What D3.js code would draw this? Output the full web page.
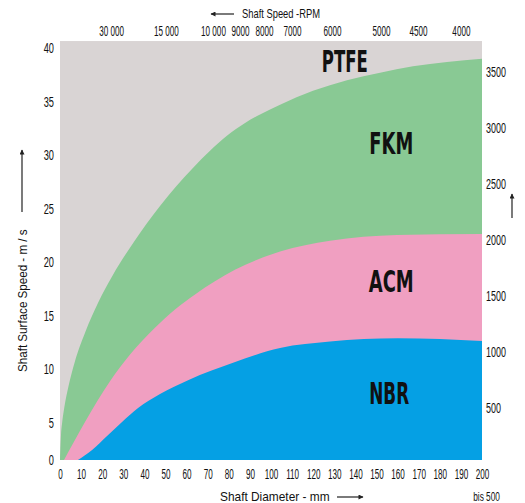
<!DOCTYPE html>
<html>
<head>
<meta charset="utf-8">
<script src="https://cdn.jsdelivr.net/npm/d3@7"></script>
<style>
  body { margin: 0; background: #fff; }
  svg { display: block; }
</style>
</head>
<body>
<div id="chart"></div>
<script>
// upper limit of each seal material: shaft diameter (mm) -> surface speed (m/s)
const fkmDiameter = [0, 0.5, 1, 2, 4, 7, 12, 18, 25, 35, 47.4, 63, 71.1, 79.1, 87.7, 94.8, 104.3, 119.9, 136, 151.7, 167.3, 183.4, 200];
const fkmSpeed    = [0, 3.5, 5.0, 6.4, 8.4, 10.7, 13.5, 16.2, 18.8, 21.9, 25.25, 28.8, 30.4, 31.8, 33.0, 33.8, 34.7, 36.0, 37.0, 37.7, 38.3, 38.7, 39.0];

const acmDiameter = [1.9, 11.85, 23.7, 33.2, 45, 54.5, 64, 82.9, 104.3, 128, 159.7, 200];
const acmSpeed    = [0, 5.1, 8.9, 11.4, 13.9, 15.6, 17.0, 19.3, 21.0, 22.0, 22.55, 22.65];

const nbrDiameter = [8.5, 15.2, 22.3, 29.4, 37, 47.4, 60.7, 83, 104.3, 128, 160, 200];
const nbrSpeed    = [0, 1.35, 3.25, 5.1, 6.4, 7.7, 9.0, 10.7, 12.0, 12.6, 12.9, 12.65];

const materials = ["PTFE", "FKM", "ACM", "NBR"];
const colors = ["#d9d4d4", "#89c994", "#f09fc1", "#05a0e4"];

const diameterTicks = d3.range(0, 201, 10);
const speedTicks = [0, 5, 10, 15, 20, 25, 30, 35, 40];
const rpmRightTicks = [500, 1000, 1500, 2000, 2500, 3000, 3500];
const rpmTopTicks = [30000, 15000, 10000, 9000, 8000, 7000, 6000, 5000, 4500, 4000];
// where each rpm label sits along the diameter axis (mm)
const rpmTopAt = [24.2, 50.2, 72.5, 85.3, 96.7, 110, 128.9, 152.1, 169.7, 190];

const width = 525, height = 503;
const font = "'Liberation Sans', Arial, sans-serif";

const x = d3.scaleLinear().domain([0, 200]).range([60, 482]);
// the scan's axis is not even below 5 m/s
const y = d3.scaleLinear().domain([0, 5, 40]).range([460, 423, 48]);
const yRpm = d3.scaleLinear().domain([500, 3500]).range([408, 72]);
const yTop = 40.65;

const fmtRpm = n => n >= 10000 ? d3.format(",")(n).replace(",", " ") : String(n);

// the source uses a very condensed face, so squeeze the glyphs
function squeeze(sel, k) {
  sel.each(function() {
    const w = this.getComputedTextLength();
    d3.select(this).attr("textLength", w * k).attr("lengthAdjust", "spacingAndGlyphs");
  });
}

const svg = d3.select("#chart").append("svg")
    .attr("width", width)
    .attr("height", height)
    .attr("font-family", font);

const defs = svg.append("defs");
defs.append("marker")
    .attr("id", "arrow")
    .attr("viewBox", "0 0 10 10")
    .attr("refX", 9).attr("refY", 5)
    .attr("markerWidth", 7).attr("markerHeight", 5)
    .attr("markerUnits", "userSpaceOnUse")
    .attr("orient", "auto")
  .append("path")
    .attr("d", "M0,0L10,5L0,10Z")
    .attr("fill", "#222");

// PTFE covers everything
svg.append("rect")
    .attr("x", x(0))
    .attr("y", y(yTop))
    .attr("width", x(200) - x(0))
    .attr("height", y(0) - y(yTop))
    .attr("fill", colors[0]);

const area = d3.area()
    .x(d => x(d[0]))
    .y0(y(0))
    .y1(d => y(d[1]))
    .curve(d3.curveMonotoneX);

const layers = [
  [fkmDiameter, fkmSpeed, colors[1]],
  [acmDiameter, acmSpeed, colors[2]],
  [nbrDiameter, nbrSpeed, colors[3]]
];
layers.forEach(([ds, vs, c]) => {
  svg.append("path")
      .datum(ds.map((d, i) => [d, vs[i]]))
      .attr("d", area)
      .attr("fill", c);
});

// material names
const labelPos = [[135, 38.8, 46], [157, 31.1, 44], [157, 18.2, 45], [156, 7.8, 40]];
svg.append("g")
  .selectAll("text")
  .data(materials)
  .join("text")
    .attr("x", (d, i) => x(labelPos[i][0]))
    .attr("y", (d, i) => y(labelPos[i][1]))
    .attr("dy", "0.36em")
    .attr("text-anchor", "middle")
    .attr("font-family", "'DejaVu Sans Condensed', sans-serif")
    .attr("font-size", 30)
    .attr("font-weight", "bold")
    .attr("textLength", (d, i) => labelPos[i][2])
    .attr("lengthAdjust", "spacingAndGlyphs")
    .attr("fill", "#111")
    .text(d => d);

function tidy(k) {
  return g => {
    g.select(".domain").remove();
    g.selectAll("text")
        .attr("fill", "#111")
        .attr("font-size", 14)
        .attr("font-family", font)
        .call(squeeze, k);
  };
}

svg.append("g")
    .attr("transform", `translate(0,${y(0)})`)
    .call(d3.axisBottom(x).tickValues(diameterTicks).tickSize(0).tickPadding(9))
    .call(tidy(0.58));

svg.append("g")
    .attr("transform", `translate(${x(0)},0)`)
    .call(d3.axisLeft(y).tickValues(speedTicks).tickSize(0).tickPadding(6))
    .call(tidy(0.66));

svg.append("g")
    .attr("transform", `translate(${x(200)},0)`)
    .call(d3.axisRight(yRpm).tickValues(rpmRightTicks).tickSize(0).tickPadding(4)
      .tickFormat(d3.format("d")))
    .call(tidy(0.64));

svg.append("g")
    .attr("transform", `translate(0,${y(yTop)})`)
    .call(d3.axisTop(x).tickValues(rpmTopAt).tickSize(0).tickPadding(5)
      .tickFormat((d, i) => fmtRpm(rpmTopTicks[i])))
    .call(tidy(0.58));

// titles and arrows
svg.append("text")
    .attr("x", 242).attr("y", 18)
    .attr("font-size", 13)
    .attr("fill", "#111")
    .text("Shaft Speed -RPM")
    .call(squeeze, 0.72);
svg.append("line")
    .attr("x1", 234).attr("y1", 14).attr("x2", 211).attr("y2", 14)
    .attr("stroke", "#222").attr("stroke-width", 1.2)
    .attr("marker-end", "url(#arrow)");

svg.append("text")
    .attr("x", 220).attr("y", 501)
    .attr("font-size", 13.5)
    .attr("fill", "#111")
    .text("Shaft Diameter - mm")
    .call(squeeze, 0.88);
svg.append("line")
    .attr("x1", 337).attr("y1", 497).attr("x2", 363).attr("y2", 497)
    .attr("stroke", "#222").attr("stroke-width", 1.2)
    .attr("marker-end", "url(#arrow)");

svg.append("text")
    .attr("x", 500).attr("y", 501)
    .attr("text-anchor", "end")
    .attr("font-size", 13)
    .attr("fill", "#111")
    .text("bis 500")
    .call(squeeze, 0.64);

svg.append("text")
    .attr("transform", "translate(27,372) rotate(-90)")
    .attr("font-size", 13.5)
    .attr("fill", "#111")
    .text("Shaft Surface Speed - m / s")
    .call(squeeze, 0.86);
svg.append("line")
    .attr("x1", 22).attr("y1", 212).attr("x2", 22).attr("y2", 150)
    .attr("stroke", "#222").attr("stroke-width", 1.2)
    .attr("marker-end", "url(#arrow)");

svg.append("line")
    .attr("x1", 512).attr("y1", 218).attr("x2", 512).attr("y2", 194)
    .attr("stroke", "#222").attr("stroke-width", 1.2)
    .attr("marker-end", "url(#arrow)");
</script>
</body>
</html>
